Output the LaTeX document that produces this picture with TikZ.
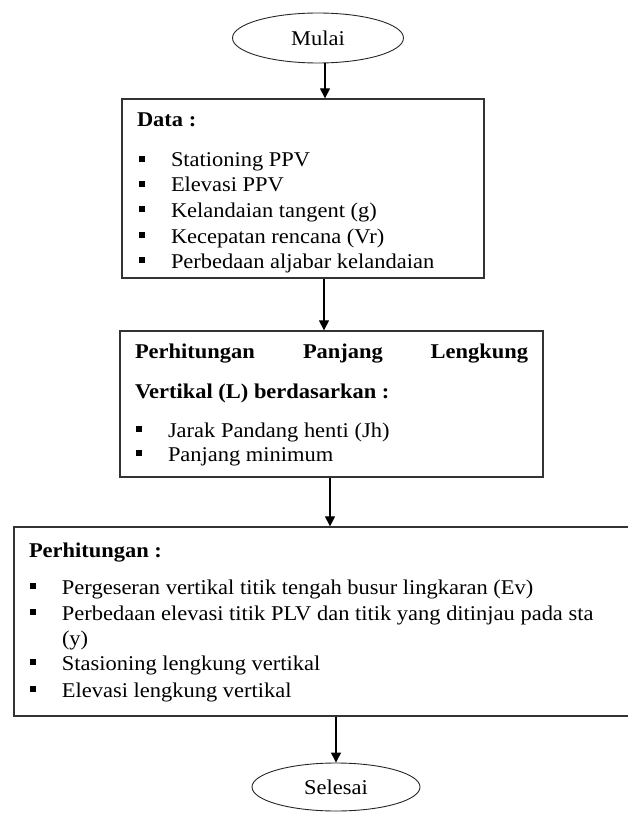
\documentclass[tikz,border=0pt]{standalone}
\usepackage{fontspec}
\setmainfont{Liberation Serif}[FakeStretch=1.07]
\usetikzlibrary{shapes.geometric,arrows.meta}
% small square bullet used in the lists
\newcommand\sqb{\rule[5pt]{6pt}{6pt}}
\newcommand\itemtxt[1]{\makebox[32pt][l]{\sqb}#1}
\begin{document}
\begin{tikzpicture}[x=1pt,y=-1pt,
  every node/.style={font=\fontsize{21}{25}\selectfont},
  txt/.style={anchor=base west,inner sep=0pt,outer sep=0pt},
  txtr/.style={anchor=base east,inner sep=0pt,outer sep=0pt},
  box/.style={draw=black!80,line width=1.3pt,rectangle,inner sep=0pt},
  term/.style={draw=black!85,line width=0.9pt,ellipse,inner sep=0pt},
  arr/.style={draw=black,line width=1.2pt,-{Triangle[length=10pt,width=10pt]}}]
\useasboundingbox (0,0) rectangle (627,813);

% terminals
\node[term,minimum width=171,minimum height=50] (mulai) at (318,38) {Mulai};
\node[term,minimum width=168,minimum height=48] (selesai) at (336,787) {Selesai};

% process boxes
\node[box,minimum width=362,minimum height=179] (data) at (303,188.5) {};
\node[box,minimum width=423,minimum height=146] (pl) at (331.5,404) {};
\node[box,minimum width=618,minimum height=189] (hit) at (323,621.5) {};

% box 1 contents
\node[txt] (dhead) at (137,127) {\textbf{Data :}};
\node[txt] (d1) at (139,167) {\itemtxt{Stationing PPV}};
\node[txt] (d2) at (139,192) {\itemtxt{Elevasi PPV}};
\node[txt] (d3) at (139,217) {\itemtxt{Kelandaian tangent (g)}};
\node[txt] (d4) at (139,243) {\itemtxt{Kecepatan rencana (Vr)}};
\node[txt] (d5) at (139,268) {\itemtxt{Perbedaan aljabar kelandaian}};

% box 2 contents
\node[txt] (ph1) at (135,358) {\textbf{Perhitungan}};
\node[txt] (ph2) at (303,358) {\textbf{Panjang}};
\node[txtr] (ph3) at (528,358) {\textbf{Lengkung}};
\node[txt] (ph4) at (135,398) {\textbf{Vertikal (L) berdasarkan :}};
\node[txt] (p1) at (136,437) {\itemtxt{Jarak Pandang henti (Jh)}};
\node[txt] (p2) at (136,461) {\itemtxt{Panjang minimum}};

% box 3 contents
\node[txt] (hhead) at (29,557) {\textbf{Perhitungan :}};
\node[txt] (h1) at (30,594) {\itemtxt{Pergeseran vertikal titik tengah busur lingkaran (Ev)}};
\node[txt] (h2) at (30,620) {\itemtxt{Perbedaan elevasi titik PLV dan titik yang ditinjau pada sta}};
\node[txt] (h2b) at (62,645) {(y)};
\node[txt] (h3) at (30,670) {\itemtxt{Stasioning lengkung vertikal}};
\node[txt] (h4) at (30,697) {\itemtxt{Elevasi lengkung vertikal}};

% connectors
\draw[arr] ([xshift=7pt]mulai.south) -- ([xshift=7pt]mulai.south |- data.north);
\draw[arr] ([xshift=21pt]data.south) -- ([xshift=21pt]data.south |- pl.north);
\draw[arr] ([xshift=-1.5pt]pl.south) -- ([xshift=-1.5pt]pl.south |- hit.north);
\draw[arr] ([xshift=13pt]hit.south) -- ([xshift=13pt]hit.south |- selesai.north);
\end{tikzpicture}
\end{document}
